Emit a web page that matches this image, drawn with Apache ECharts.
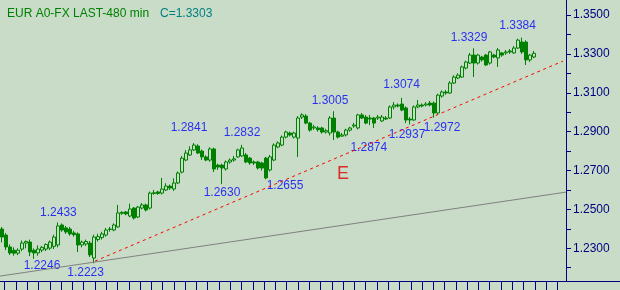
<!DOCTYPE html>
<html><head><meta charset="utf-8">
<script src="https://cdn.jsdelivr.net/npm/echarts@6/dist/echarts.min.js"></script>
<style>html,body{margin:0;padding:0;background:#C8DCC8;}#c{width:620px;height:290px;}</style>
</head><body><div id="c"></div>
<script>
const titleText = 'EUR A0-FX LAST-480 min';
const opens = [
1.2399,1.2368,1.2307,1.2290,1.2275,1.2296,1.2327,1.2332,1.2290,1.2276,
1.2291,1.2296,1.2301,1.2310,1.2317,1.2420,1.2405,1.2399,1.2379,1.2374,
1.2317,1.2322,1.2327,1.2250,1.2345,1.2355,1.2368,1.2399,1.2394,1.2410,
1.2485,1.2487,1.2466,1.2507,1.2461,1.2507,1.2523,1.2507,1.2582,1.2590,
1.2584,1.2600,1.2620,1.2605,1.2636,1.2692,1.2754,1.2780,1.2806,1.2826,
1.2800,1.2770,1.2754,1.2811,1.2728,1.2728,1.2708,1.2744,1.2754,1.2770,
1.2775,1.2780,1.2764,1.2744,1.2744,1.2739,1.2764,1.2703,1.2754,1.2821,
1.2831,1.2872,1.2893,1.2872,1.2867,1.2975,1.2980,1.2944,1.2919,1.2919,
1.2919,1.2898,1.2893,1.2970,1.2898,1.2877,1.2883,1.2908,1.2929,1.2919,
1.2986,1.2975,1.2970,1.2970,1.2970,1.2955,1.2970,1.2970,1.3027,1.3037,
1.3042,1.3022,1.2965,1.2960,1.3027,1.3037,1.3037,1.3047,1.3047,1.2996,
1.3083,1.3104,1.3099,1.3150,1.3176,1.3181,1.3227,1.3253,1.3294,1.3253,
1.3284,1.3294,1.3253,1.3294,1.3279,1.3305,1.3305,1.3315,1.3305,1.3330,
1.3361,1.3361,1.3269,1.3284];
const highs = [
1.2410,1.2379,1.2320,1.2305,1.2300,1.2340,1.2340,1.2345,1.2300,1.2315,
1.2312,1.2325,1.2340,1.2370,1.2433,1.2428,1.2415,1.2410,1.2390,1.2382,
1.2340,1.2345,1.2338,1.2370,1.2375,1.2385,1.2405,1.2410,1.2428,1.2523,
1.2490,1.2492,1.2530,1.2512,1.2518,1.2533,1.2530,1.2592,1.2600,1.2596,
1.2662,1.2635,1.2628,1.2660,1.2695,1.2775,1.2805,1.2825,1.2841,1.2835,
1.2808,1.2778,1.2820,1.2818,1.2735,1.2735,1.2752,1.2762,1.2775,1.2812,
1.2832,1.2790,1.2770,1.2752,1.2750,1.2745,1.2770,1.2780,1.2840,1.2850,
1.2880,1.2905,1.2900,1.2900,1.2980,1.2995,1.2990,1.2950,1.2935,1.2928,
1.2925,1.2915,1.2980,1.3005,1.2905,1.2893,1.2915,1.2925,1.2945,1.2992,
1.2996,1.2985,1.2986,1.2975,1.2986,1.2986,1.2980,1.3035,1.3052,1.3045,
1.3074,1.3030,1.2975,1.3035,1.3063,1.3045,1.3052,1.3058,1.3055,1.3095,
1.3112,1.3114,1.3160,1.3190,1.3200,1.3240,1.3265,1.3305,1.3329,1.3300,
1.3290,1.3300,1.3315,1.3300,1.3330,1.3310,1.3320,1.3325,1.3340,1.3378,
1.3384,1.3370,1.3300,1.3315];
const lows = [
1.2330,1.2291,1.2266,1.2262,1.2265,1.2285,1.2300,1.2260,1.2246,1.2262,
1.2280,1.2286,1.2291,1.2296,1.2305,1.2385,1.2375,1.2365,1.2360,1.2281,
1.2305,1.2312,1.2255,1.2223,1.2335,1.2345,1.2360,1.2385,1.2388,1.2405,
1.2472,1.2470,1.2460,1.2448,1.2455,1.2500,1.2490,1.2500,1.2575,1.2575,
1.2577,1.2595,1.2600,1.2595,1.2630,1.2685,1.2748,1.2775,1.2800,1.2785,
1.2754,1.2748,1.2745,1.2692,1.2703,1.2630,1.2700,1.2735,1.2745,1.2765,
1.2770,1.2738,1.2730,1.2728,1.2705,1.2700,1.2655,1.2695,1.2748,1.2815,
1.2825,1.2865,1.2875,1.2865,1.2770,1.2965,1.2938,1.2900,1.2910,1.2900,
1.2890,1.2890,1.2880,1.2857,1.2865,1.2874,1.2875,1.2900,1.2920,1.2912,
1.2965,1.2938,1.2934,1.2919,1.2960,1.2950,1.2960,1.2965,1.3015,1.3025,
1.3005,1.2944,1.2937,1.2955,1.3020,1.3025,1.3030,1.3030,1.2972,1.2990,
1.3075,1.3090,1.3094,1.3145,1.3170,1.3176,1.3220,1.3248,1.3181,1.3245,
1.3260,1.3238,1.3245,1.3278,1.3233,1.3285,1.3295,1.3300,1.3300,1.3325,
1.3300,1.3243,1.3258,1.3278];
const closes = [
1.2358,1.2307,1.2276,1.2275,1.2290,1.2327,1.2335,1.2281,1.2276,1.2296,
1.2305,1.2320,1.2332,1.2358,1.2415,1.2394,1.2384,1.2374,1.2370,1.2317,
1.2332,1.2335,1.2266,1.2358,1.2360,1.2374,1.2394,1.2397,1.2420,1.2482,
1.2480,1.2477,1.2502,1.2456,1.2512,1.2523,1.2497,1.2584,1.2586,1.2582,
1.2605,1.2620,1.2610,1.2636,1.2687,1.2764,1.2790,1.2806,1.2831,1.2790,
1.2770,1.2754,1.2811,1.2708,1.2718,1.2713,1.2744,1.2754,1.2760,1.2806,
1.2816,1.2744,1.2739,1.2739,1.2713,1.2713,1.2662,1.2770,1.2831,1.2842,
1.2872,1.2898,1.2883,1.2893,1.2970,1.2986,1.2944,1.2908,1.2924,1.2910,
1.2898,1.2905,1.2970,1.2898,1.2872,1.2883,1.2908,1.2919,1.2934,1.2986,
1.2970,1.2944,1.2965,1.2944,1.2975,1.2975,1.2965,1.3027,1.3037,1.3032,
1.3011,1.2960,1.2960,1.3027,1.3037,1.3032,1.3042,1.3037,1.2996,1.3088,
1.3104,1.3099,1.3150,1.3181,1.3191,1.3233,1.3258,1.3294,1.3253,1.3294,
1.3269,1.3243,1.3310,1.3284,1.3320,1.3294,1.3310,1.3310,1.3330,1.3371,
1.3310,1.3269,1.3294,1.3303];
// y-axis tick values and labelled values
const yTickValues = [1.22,1.23,1.24,1.25,1.26,1.27,1.28,1.29,1.30,1.31,1.32,1.33,1.34,1.35];
const yLabelValues = [1.23,1.25,1.27,1.29,1.31,1.33,1.35];
// annotations: text, bar position, price
const noteTexts = ['1.2433','1.2246','1.2223','1.2841','1.2832','1.2630','1.2655','1.3005','1.2874','1.3074','1.2937','1.2972','1.3329','1.3384'];
const noteBars  = [14.6,10.5,21.4,47.25,60.5,55.5,71.25,82.5,92.2,100.4,101.75,110.5,117.25,129.4];
const notePrices= [1.2482,1.2209,1.2175,1.2919,1.2893,1.2587,1.2620,1.3058,1.2818,1.3140,1.2883,1.2919,1.3382,1.3443];
const waveMark = {text:'E', bar:85.75, price:1.2682};
// trend lines: [bar position, price]
const supportLine = [[23.75,1.2234],[140.75,1.3263]];
const baseLine = [[0,1.2157],[141.5,1.2589]];
const slotCount = 141.5;

const BG = '#C8DCC8', GREEN = '#008000', NAVY = '#000080';
const candleData = opens.map((o, i) => [i + 0.5, o, closes[i], lows[i], highs[i]]);
const xTicks = []; for (let t = 1.17; t < slotCount; t += 2.82) xTicks.push(t);
const font = 'Liberation Sans, Arial, sans-serif';

const chart = echarts.init(document.getElementById('c'), null, {renderer: 'canvas'});
chart.setOption({
  backgroundColor: BG,
  animation: false,
  title: [
    {text: titleText, left: 2, top: 3, textStyle: {fontFamily: font, fontSize: 12, fontWeight: 'normal', color: GREEN}},
    {text: 'C=' + closes[closes.length - 1].toFixed(4), left: 155, top: 3, textStyle: {fontFamily: font, fontSize: 12, fontWeight: 'normal', color: '#008080'}}
  ],
  grid: [
    {left: 0, right: 54, top: 0, bottom: 9},
    {left: 0, right: 0, top: 280, bottom: 9}
  ],
  xAxis: [
    {type: 'value', gridIndex: 0, min: 0, max: slotCount, axisLine: {show: true, onZero: false, lineStyle: {color: NAVY, width: 1}},
     axisTick: {show: true, customValues: xTicks, length: 9, lineStyle: {color: NAVY}}, axisLabel: {show: false}, splitLine: {show: false}},
    {type: 'value', gridIndex: 1, min: 0, max: 1, axisLine: {show: true, onZero: false, lineStyle: {color: NAVY, width: 1}},
     axisTick: {show: false}, axisLabel: {show: false}, splitLine: {show: false}}
  ],
  yAxis: [
    {type: 'value', gridIndex: 0, position: 'right', min: 1.21318, max: 1.35772,
     axisLine: {show: true, onZero: false, lineStyle: {color: NAVY, width: 1}},
     axisTick: {show: true, customValues: yTickValues, length: 5, lineStyle: {color: NAVY}},
     axisLabel: {show: true, customValues: yLabelValues, formatter: v => v.toFixed(4), margin: 7, color: NAVY, fontFamily: font, fontSize: 12},
     splitLine: {show: false}},
    {type: 'value', gridIndex: 1, show: false, min: 0, max: 1}
  ],
  series: [
    {type: 'candlestick', xAxisIndex: 0, yAxisIndex: 0, data: candleData, barWidth: 3,
     encode: {x: 0, y: [1, 2, 3, 4]},
     itemStyle: {color: BG, color0: GREEN, borderColor: GREEN, borderColor0: GREEN, borderColorDoji: GREEN, borderWidth: 1}},
    {type: 'line', xAxisIndex: 0, yAxisIndex: 0, data: baseLine, symbol: 'none', silent: true,
     lineStyle: {color: '#808080', width: 1}},
    {type: 'line', xAxisIndex: 0, yAxisIndex: 0, data: supportLine, symbol: 'none', silent: true,
     lineStyle: {color: '#FF0000', width: 1, type: [3, 3.5]}},
    {type: 'scatter', xAxisIndex: 0, yAxisIndex: 0, symbolSize: 0, silent: true,
     data: noteTexts.map((t, i) => ({value: [noteBars[i], notePrices[i]], name: t})),
     label: {show: true, position: 'inside', formatter: p => p.name, color: '#0000FF', fontFamily: font, fontSize: 12}},
    {type: 'scatter', xAxisIndex: 0, yAxisIndex: 0, symbolSize: 0, silent: true,
     data: [{value: [waveMark.bar, waveMark.price], name: waveMark.text}],
     label: {show: true, position: 'inside', formatter: p => p.name, color: '#E00000', fontFamily: font, fontSize: 18}}
  ]
});
</script></body></html>
